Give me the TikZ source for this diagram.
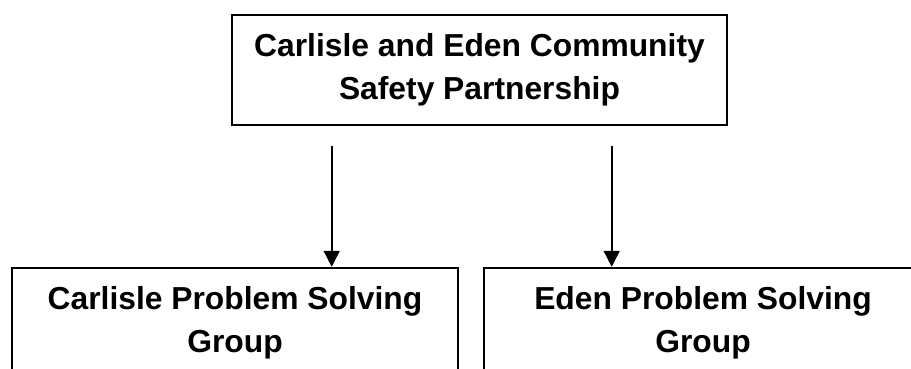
\documentclass[tikz,border=0pt]{standalone}
\usepackage{fontspec}
\setmainfont{Liberation Sans}
\usetikzlibrary{arrows.meta}
\begin{document}
\begin{tikzpicture}[x=1pt,y=1pt,
  orgbox/.style={draw=black, line width=1.8pt, rectangle, align=center, inner sep=0pt,
    font=\bfseries\fontsize{31.8}{43.5}\selectfont, minimum height=110pt},
  link/.style={draw=black, line width=1.8pt, -{Triangle[length=16pt,width=16pt]}}]
\useasboundingbox (0,0) rectangle (911,369);
\clip (0,0) rectangle (911,369);
\node[orgbox, minimum width=495pt] (top) at (479.5,299) {Carlisle and Eden Community\\Safety Partnership};
\node[orgbox, minimum width=446pt] (left) at (235,46.3) {Carlisle Problem Solving\\Group};
\node[orgbox, minimum width=438pt] (right) at (703,46.3) {Eden Problem Solving\\Group};
\coordinate (a1) at (331.7,223.3);
\coordinate (a2) at (611.7,223.3);
\draw[link] (a1) -- (a1 |- left.north);
\draw[link] (a2) -- (a2 |- right.north);
\end{tikzpicture}
\end{document}
